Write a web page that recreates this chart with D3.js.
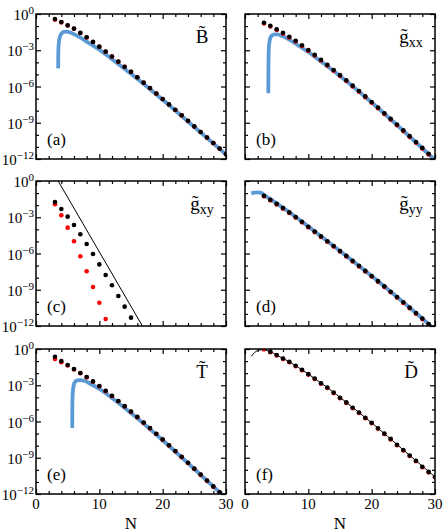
<!DOCTYPE html>
<html>
<head>
<meta charset="utf-8">
<title>panels</title>
<script src="https://cdnjs.cloudflare.com/ajax/libs/d3/7.8.5/d3.min.js"></script>
<style>
	body { margin: 0; background: #fff; }
</style>
</head>
<body>
<script>
	// values are log10 exponents, [N, exponent]
	var aBlack = [[3,-0.41],[4,-0.67],[5,-0.94],[6,-1.21],[7,-1.56],[8,-1.93],[9,-2.31],[10,-2.70],[11,-3.11],[12,-3.52],[13,-3.94],[14,-4.36],[15,-4.78],[16,-5.23],[17,-5.68],[18,-6.13],[19,-6.58],[20,-7.03],[21,-7.48],[22,-7.93],[23,-8.38],[24,-8.84],[25,-9.30],[26,-9.76],[27,-10.22],[28,-10.68],[29,-11.14],[30,-11.60]];
	var aRed = [[3,-0.47],[4,-0.69],[5,-0.95],[6,-1.22],[7,-1.57],[8,-1.94],[9,-2.32],[10,-2.71],[11,-3.12],[12,-3.53],[13,-3.95],[14,-4.37],[15,-4.79],[16,-5.24],[17,-5.69],[18,-6.14],[19,-6.59],[20,-7.04],[21,-7.49],[22,-7.94],[23,-8.39],[24,-8.85],[25,-9.31],[26,-9.77],[27,-10.23],[28,-10.69],[29,-11.15],[30,-11.61]];
	var aBlue = [[3.5,-4.5],[3.51,-3.6],[3.55,-2.8],[3.65,-2.2],[3.8,-1.85],[4.05,-1.6],[4.4,-1.48],[4.8,-1.46],[5.5,-1.55],[6.5,-1.8],[8,-2.28],[10,-2.95],[12,-3.74],[15,-4.95],[20,-7.1],[25,-9.35],[30,-11.62]];

	var bBlack = [[3,-0.72],[4,-0.98],[5,-1.26],[6,-1.56],[7,-1.88],[8,-2.21],[9,-2.59],[10,-2.98],[11,-3.38],[12,-3.79],[13,-4.21],[14,-4.63],[15,-5.06],[16,-5.49],[17,-5.93],[18,-6.37],[19,-6.82],[20,-7.28],[21,-7.74],[22,-8.21],[23,-8.68],[24,-9.15],[25,-9.63],[26,-10.11],[27,-10.59],[28,-11.08],[29,-11.57],[30,-12.06]];
	var bRed = [[3,-0.78],[4,-1.04],[5,-1.32],[6,-1.62],[7,-1.94],[8,-2.27],[9,-2.65],[10,-3.04],[11,-3.44],[12,-3.85],[13,-4.27],[14,-4.69],[15,-5.12],[16,-5.55],[17,-5.99],[18,-6.43],[19,-6.88],[20,-7.34],[21,-7.80],[22,-8.27],[23,-8.74],[24,-9.21],[25,-9.69],[26,-10.17],[27,-10.65],[28,-11.14],[29,-11.63],[30,-12.12]];
	var bBlue = [[3.68,-6.55],[3.69,-5.2],[3.71,-4.0],[3.75,-3.0],[3.85,-2.35],[4.0,-1.98],[4.25,-1.77],[4.6,-1.68],[5.1,-1.68],[6,-1.85],[7,-2.12],[8,-2.46],[10,-3.15],[12,-3.93],[15,-5.13],[20,-7.32],[25,-9.66],[30,-12.1]];

	var cBlack = [[3,-1.74],[4,-2.32],[5,-2.95],[6,-3.64],[7,-4.41],[8,-5.21],[9,-6.04],[10,-6.90],[11,-7.78],[12,-8.63],[13,-9.52],[14,-10.40],[15,-11.31]];
	var cRed = [[3,-1.93],[4,-2.84],[5,-3.86],[6,-4.99],[7,-6.23],[8,-7.47],[9,-8.77],[10,-10.07],[11,-11.42]];
	var cLine = [[3.5,0],[16.8,-12]];

	var dBlack = [[3,-1.22],[4,-1.55],[5,-1.89],[6,-2.24],[7,-2.60],[8,-2.98],[9,-3.37],[10,-3.78],[11,-4.18],[12,-4.58],[13,-4.98],[14,-5.38],[15,-5.79],[16,-6.20],[17,-6.61],[18,-7.02],[19,-7.44],[20,-7.86],[21,-8.29],[22,-8.72],[23,-9.16],[24,-9.60],[25,-10.04],[26,-10.48],[27,-10.93],[28,-11.38],[29,-11.83],[30,-12.28]];
	var dRed = [[3,-1.27],[4,-1.60],[5,-1.94],[6,-2.29],[7,-2.65],[8,-3.03],[9,-3.42],[10,-3.83],[11,-4.23],[12,-4.63],[13,-5.03],[14,-5.43],[15,-5.84],[16,-6.25],[17,-6.66],[18,-7.07],[19,-7.49],[20,-7.91],[21,-8.34],[22,-8.77],[23,-9.21],[24,-9.65],[25,-10.09],[26,-10.53],[27,-10.98],[28,-11.43],[29,-11.88],[30,-12.33]];
	var dBlue = [[1.0,-1.02],[1.5,-0.96],[2.1,-0.94],[2.6,-1.0],[3,-1.16],[4,-1.5],[5,-1.85],[7,-2.58],[10,-3.76],[15,-5.79],[20,-7.86],[25,-10.04],[30,-12.3]];

	var eBlack = [[3,-0.64],[4,-1.00],[5,-1.33],[6,-1.66],[7,-1.98],[8,-2.32],[9,-2.68],[10,-3.06],[11,-3.46],[12,-3.87],[13,-4.30],[14,-4.73],[15,-5.17],[16,-5.62],[17,-6.08],[18,-6.54],[19,-7.01],[20,-7.48],[21,-7.96],[22,-8.44],[23,-8.92],[24,-9.41],[25,-9.90],[26,-10.39],[27,-10.88],[28,-11.37],[29,-11.86],[30,-12.35]];
	var eRed = [[3,-0.83],[4,-1.10],[5,-1.36],[6,-1.69],[7,-2.01],[8,-2.35],[9,-2.71],[10,-3.09],[11,-3.49],[12,-3.90],[13,-4.33],[14,-4.76],[15,-5.20],[16,-5.65],[17,-6.11],[18,-6.57],[19,-7.04],[20,-7.51],[21,-7.99],[22,-8.47],[23,-8.95],[24,-9.44],[25,-9.93],[26,-10.42],[27,-10.91],[28,-11.40],[29,-11.89],[30,-12.38]];
	var eBlue = [[5.72,-6.53],[5.73,-5.3],[5.76,-4.2],[5.83,-3.45],[5.95,-3.0],[6.15,-2.72],[6.5,-2.6],[7,-2.58],[7.7,-2.65],[8.5,-2.85],[10,-3.3],[12,-4.05],[15,-5.3],[20,-7.55],[25,-9.93],[30,-12.35]];

	var fBlack = [[4,-0.22],[5,-0.50],[6,-0.78],[7,-1.06],[8,-1.39],[9,-1.72],[10,-2.08],[11,-2.44],[12,-2.83],[13,-3.19],[14,-3.61],[15,-4.03],[16,-4.42],[17,-4.86],[18,-5.25],[19,-5.69],[20,-6.11],[21,-6.56],[22,-7.00],[23,-7.44],[24,-7.92],[25,-8.36],[26,-8.81],[27,-9.25],[28,-9.75],[29,-10.17],[30,-10.58]];
	var fRed = [[3,-0.03],[4,-0.26],[5,-0.54],[6,-0.82],[7,-1.10],[8,-1.43],[9,-1.76],[10,-2.12],[11,-2.48],[12,-2.87],[13,-3.23],[14,-3.65],[15,-4.07],[16,-4.46],[17,-4.90],[18,-5.29],[19,-5.73],[20,-6.15],[21,-6.60],[22,-7.04],[23,-7.48],[24,-7.96],[25,-8.40],[26,-8.85],[27,-9.29],[28,-9.79],[29,-10.21],[30,-10.62]];
	var fLine = [[1.0,-0.6],[1.5,-0.3],[2.0,-0.13],[2.6,-0.07],[3.2,-0.1],[4,-0.22],[5,-0.5],[7,-1.06],[10,-2.08],[13,-3.19],[16,-4.42],[20,-6.11],[25,-8.36],[30,-10.58]];

	var xTicks = [0, 10, 20, 30],
		xMinor = [2, 4, 6, 8, 12, 14, 16, 18, 22, 24, 26, 28],
		yExpLabels = [0, -3, -6, -9, -12],
		yExpMinor = [-1, -2, -4, -5, -7, -8, -10, -11];

	var panels = [
		{tag: "(a)", name: "B", sub: "", black: aBlack, red: aRed, blue: aBlue, line: null, col: 0, row: 0},
		{tag: "(b)", name: "g", sub: "xx", black: bBlack, red: bRed, blue: bBlue, line: null, col: 1, row: 0},
		{tag: "(c)", name: "g", sub: "xy", black: cBlack, red: cRed, blue: null, line: cLine, col: 0, row: 1},
		{tag: "(d)", name: "g", sub: "yy", black: dBlack, red: dRed, blue: dBlue, line: null, col: 1, row: 1},
		{tag: "(e)", name: "T", sub: "", black: eBlack, red: eRed, blue: eBlue, line: null, col: 0, row: 2},
		{tag: "(f)", name: "D", sub: "", black: fBlack, red: fRed, blue: null, line: fLine, col: 1, row: 2}
	];

	var width = 443, height = 532,
		colLeft = [36, 245], rowTop = [14, 181, 349],
		pw = 190, ph = 145,
		serif = "Liberation Serif";

	var svg = d3.select("body").append("svg")
		.attr("width", width)
		.attr("height", height);

	function label(sel) {
		return sel.append("text").attr("font-family", serif).attr("fill", "#000");
	}

	panels.forEach(function(p, i) {
		var x0 = colLeft[p.col], y0 = rowTop[p.row];
		var x = d3.scaleLinear().domain([0, 30]).range([0, pw]);
		var y = d3.scaleLog().domain([1e-12, 1]).range([ph, 0]);
		var g = svg.append("g").attr("transform", "translate(" + x0 + "," + y0 + ")");

		g.append("clipPath").attr("id", "clip" + i)
			.append("rect").attr("width", pw).attr("height", ph);

		var plot = g.append("g").attr("clip-path", "url(#clip" + i + ")");

		var line = d3.line()
			.x(function(d){ return x(d[0]); })
			.y(function(d){ return y(Math.pow(10, d[1])); })
			.curve(d3.curveMonotoneX);

		if (p.blue) {
			plot.append("path").attr("d", line(p.blue))
				.attr("fill", "none").attr("stroke", "#5b9bd5")
				.attr("stroke-width", 3.8).attr("stroke-linecap", "butt");
		}
		if (p.line) {
			plot.append("path").attr("d", line(p.line))
				.attr("fill", "none").attr("stroke", "#000")
				.attr("stroke-width", 1);
		}
		plot.selectAll("circle.red").data(p.red).enter().append("circle")
			.attr("class", "red")
			.attr("cx", function(d){ return x(d[0]); })
			.attr("cy", function(d){ return y(Math.pow(10, d[1])); })
			.attr("r", 2.3).attr("fill", "#ff0000");
		plot.selectAll("circle.black").data(p.black).enter().append("circle")
			.attr("class", "black")
			.attr("cx", function(d){ return x(d[0]); })
			.attr("cy", function(d){ return y(Math.pow(10, d[1])); })
			.attr("r", 2.3).attr("fill", "#000");

		// inward ticks on all four sides
		var yMaj = yExpLabels.map(function(e){ return Math.pow(10, e); }),
			yMin = yExpMinor.map(function(e){ return Math.pow(10, e); });
		function addAxis(axis, tr) {
			var a = g.append("g").attr("transform", tr).call(axis);
			a.select(".domain").remove();
			a.selectAll("line").attr("stroke", "#000").attr("stroke-width", 1.2);
			return a;
		}
		addAxis(d3.axisBottom(x).tickValues(xTicks).tickSize(-5).tickFormat(""), "translate(0," + ph + ")");
		addAxis(d3.axisBottom(x).tickValues(xMinor).tickSize(-3).tickFormat(""), "translate(0," + ph + ")");
		addAxis(d3.axisTop(x).tickValues(xTicks).tickSize(-5).tickFormat(""), "translate(0,0)");
		addAxis(d3.axisTop(x).tickValues(xMinor).tickSize(-3).tickFormat(""), "translate(0,0)");
		addAxis(d3.axisLeft(y).tickValues(yMaj).tickSize(-5).tickFormat(""), "translate(0,0)");
		addAxis(d3.axisLeft(y).tickValues(yMin).tickSize(-3).tickFormat(""), "translate(0,0)");
		addAxis(d3.axisRight(y).tickValues(yMaj).tickSize(-5).tickFormat(""), "translate(" + pw + ",0)");
		addAxis(d3.axisRight(y).tickValues(yMin).tickSize(-3).tickFormat(""), "translate(" + pw + ",0)");

		g.append("rect").attr("width", pw).attr("height", ph)
			.attr("fill", "none").attr("stroke", "#000").attr("stroke-width", 1.5);

		if (p.col === 0) {
			yExpLabels.forEach(function(e) {
				var t = label(g)
					.attr("x", -2).attr("y", y(Math.pow(10, e)) + 6)
					.attr("text-anchor", "end").attr("font-size", 15);
				t.append("tspan").text("10");
				t.append("tspan").attr("dy", -6).attr("font-size", 11)
					.text(e === 0 ? "0" : "\u2212" + (-e));
			});
		}
		if (p.row === 2) {
			xTicks.forEach(function(v) {
				label(g).attr("x", x(v)).attr("y", ph + 15)
					.attr("text-anchor", "middle").attr("font-size", 15).text(v);
			});
			label(g).attr("x", pw / 2).attr("y", ph + 35)
				.attr("text-anchor", "middle").attr("font-size", 17).text("N");
		}

		label(g).attr("x", 11).attr("y", ph - 14)
			.attr("font-size", 17).text(p.tag);

		var title = label(g).attr("x", pw - 24).attr("y", 29)
			.attr("text-anchor", "middle").attr("font-size", 19);
		title.append("tspan").text(p.name + "\u0303");
		if (p.sub) {
			title.append("tspan").attr("dy", 4).attr("font-size", 14).text(p.sub);
		}
	});
</script>
</body>
</html>
